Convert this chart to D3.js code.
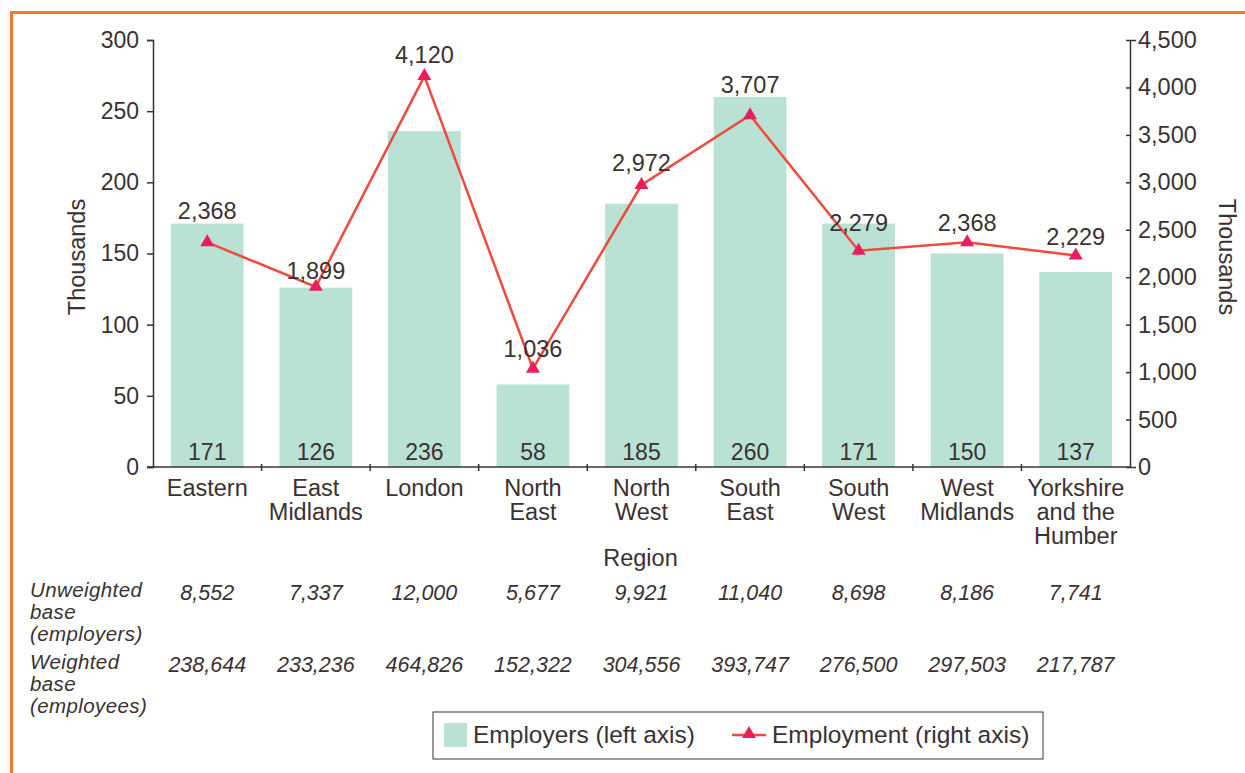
<!DOCTYPE html>
<html>
<head>
<meta charset="utf-8">
<script src="https://cdn.jsdelivr.net/npm/d3@7"></script>
<style>
  body { margin: 0; background: #fff; }
  text { font-family: "Liberation Sans", Arial, sans-serif; fill: #3b3133; }
  .domain, .tick line { stroke: #3b3133; stroke-width: 1.5; }
</style>
</head>
<body>
<svg id="chart"></svg>
<script>
// data
var regions = ["Eastern", "East Midlands", "London", "North East", "North West",
  "South East", "South West", "West Midlands", "Yorkshire and the Humber"];
var regionLines = [["Eastern"], ["East", "Midlands"], ["London"], ["North", "East"],
  ["North", "West"], ["South", "East"], ["South", "West"], ["West", "Midlands"],
  ["Yorkshire", "and the", "Humber"]];
var employers = [171, 126, 236, 58, 185, 260, 171, 150, 137];
var employment = [2368, 1899, 4120, 1036, 2972, 3707, 2279, 2368, 2229];
var unweightedBase = ["8,552", "7,337", "12,000", "5,677", "9,921", "11,040", "8,698", "8,186", "7,741"];
var weightedBase = ["238,644", "233,236", "464,826", "152,322", "304,556", "393,747", "276,500", "297,503", "217,787"];
var leftTicks = [0, 50, 100, 150, 200, 250, 300];
var rightTicks = [0, 500, 1000, 1500, 2000, 2500, 3000, 3500, 4000, 4500];
// how far each line label sits above its point (px)
var lineLabelLift = [23, 8, 13, 12, 14, 22, 20, 11, 10];

var screen = { width: 1245, height: 773 };
var margins = { top: 40, left: 153, right: 115, bottom: 306 };
var graph = {
  width: screen.width - margins.left - margins.right,
  height: screen.height - margins.top - margins.bottom
};

var svg = d3.select("#chart").attr("width", screen.width).attr("height", screen.height);

// orange frame on top and left
svg.append("line").attr("x1", 10).attr("x2", screen.width).attr("y1", 12.5).attr("y2", 12.5)
  .attr("stroke", "#f37a2f").attr("stroke-width", 3);
svg.append("line").attr("x1", 11.5).attr("x2", 11.5).attr("y1", 11).attr("y2", screen.height)
  .attr("stroke", "#f37a2f").attr("stroke-width", 3);

var g = svg.append("g").attr("transform", "translate(" + margins.left + "," + margins.top + ")");

var xScale = d3.scaleBand().domain(regions).range([0, graph.width]).paddingInner(0.33).paddingOuter(0.165);
var bandScale = d3.scaleBand().domain(regions).range([0, graph.width]);
var yLeft = d3.scaleLinear().domain([0, 300]).range([graph.height, 0]);
var yRight = d3.scaleLinear().domain([0, 4500]).range([graph.height, 0]);

// bars
g.selectAll("rect.bar").data(employers).enter().append("rect")
  .attr("class", "bar")
  .attr("x", function (d, i) { return xScale(regions[i]); })
  .attr("width", xScale.bandwidth())
  .attr("y", function (d) { return yLeft(d); })
  .attr("height", function (d) { return graph.height - yLeft(d); })
  .attr("fill", "#b9e2d4");

g.selectAll("text.barval").data(employers).enter().append("text")
  .attr("class", "barval")
  .attr("x", function (d, i) { return xScale(regions[i]) + xScale.bandwidth() / 2; })
  .attr("y", graph.height - 7)
  .attr("text-anchor", "middle")
  .style("font-size", "23px")
  .text(function (d) { return d; });

// axes
var leftAxis = d3.axisLeft(yLeft).tickValues(leftTicks).tickSize(6).tickPadding(8);
g.append("g").call(leftAxis).call(function (a) {
  a.selectAll("text").style("font-size", "23px").attr("fill", "#3b3133");
});

var fmt = d3.format(",");
var rightAxis = d3.axisRight(yRight).tickValues(rightTicks).tickFormat(fmt).tickSize(6).tickPadding(6);
g.append("g").attr("transform", "translate(" + graph.width + ",0)").call(rightAxis)
  .call(function (a) {
    a.selectAll(".tick line").attr("x1", -4).attr("x2", 0);
    a.selectAll("text").style("font-size", "23.5px").attr("fill", "#3b3133").attr("x", 8);
  });

// x axis: ticks at band boundaries
var xAxisG = g.append("g").attr("transform", "translate(0," + graph.height + ")");
xAxisG.append("line").attr("x1", -6).attr("x2", graph.width).attr("y1", 0).attr("y2", 0)
  .attr("stroke", "#3b3133").attr("stroke-width", 1.5);
xAxisG.selectAll("line.sep").data(regions.slice(1)).enter().append("line")
  .attr("class", "sep")
  .attr("x1", function (d) { return bandScale(d); })
  .attr("x2", function (d) { return bandScale(d); })
  .attr("y1", -3).attr("y2", 4)
  .attr("stroke", "#3b3133").attr("stroke-width", 1.5);

var catLabels = xAxisG.selectAll("text.cat").data(regionLines).enter().append("text")
  .attr("class", "cat")
  .attr("text-anchor", "middle")
  .attr("transform", function (d, i) {
    return "translate(" + (xScale(regions[i]) + xScale.bandwidth() / 2) + ",29)";
  })
  .style("font-size", "23.5px");
catLabels.selectAll("tspan").data(function (d) { return d; }).enter().append("tspan")
  .attr("x", 0)
  .attr("dy", function (d, i) { return i === 0 ? 0 : 24; })
  .text(function (d) { return d; });

// employment line
var line = d3.line()
  .x(function (d, i) { return xScale(regions[i]) + xScale.bandwidth() / 2; })
  .y(function (d) { return yRight(d); });

g.append("path").datum(employment)
  .attr("d", line)
  .attr("fill", "none")
  .attr("stroke", "#f04a3c")
  .attr("stroke-width", 2.5);

var tri = d3.symbol().type(d3.symbolTriangle).size(85);
g.selectAll("path.marker").data(employment).enter().append("path")
  .attr("class", "marker")
  .attr("d", tri)
  .attr("transform", function (d, i) {
    return "translate(" + (xScale(regions[i]) + xScale.bandwidth() / 2) + "," + yRight(d) + ")";
  })
  .attr("fill", "#e91e5a");

g.selectAll("text.lineval").data(employment).enter().append("text")
  .attr("class", "lineval")
  .attr("x", function (d, i) { return xScale(regions[i]) + xScale.bandwidth() / 2; })
  .attr("y", function (d, i) { return yRight(d) - lineLabelLift[i]; })
  .attr("text-anchor", "middle")
  .style("font-size", "23.5px")
  .text(function (d) { return fmt(d); });

// axis titles
svg.append("text").attr("transform", "translate(85," + (margins.top + 217) + ") rotate(-90)")
  .attr("text-anchor", "middle").style("font-size", "23.5px").text("Thousands");
svg.append("text").attr("transform", "translate(1219," + (margins.top + 217) + ") rotate(90)")
  .attr("text-anchor", "middle").style("font-size", "23.5px").text("Thousands");
svg.append("text").attr("x", margins.left + graph.width / 2 - 1).attr("y", 566)
  .attr("text-anchor", "middle").style("font-size", "23.5px").text("Region");

// base table under the chart
var tableRows = [
  { label: ["Unweighted", "base", "(employers)"], values: unweightedBase, y: 597 },
  { label: ["Weighted", "base", "(employees)"], values: weightedBase, y: 669 }
];
tableRows.forEach(function (row) {
  svg.selectAll(null).data(row.label).enter().append("text")
    .attr("x", 30)
    .attr("y", function (d, i) { return row.y + i * 22; })
    .style("font-size", "20.5px").style("font-style", "italic").style("letter-spacing", "0.4px")
    .text(function (d) { return d; });
  svg.selectAll(null).data(row.values).enter().append("text")
    .attr("x", function (d, i) { return margins.left + xScale(regions[i]) + xScale.bandwidth() / 2; })
    .attr("y", row.y + 3)
    .attr("text-anchor", "middle")
    .style("font-size", "21.5px").style("font-style", "italic")
    .text(function (d) { return d; });
});

// legend
var legend = svg.append("g").attr("transform", "translate(433,712)");
legend.append("rect").attr("width", 610).attr("height", 47)
  .attr("fill", "#fff").attr("stroke", "#3b3133").attr("stroke-width", 1);
legend.append("rect").attr("x", 11).attr("y", 11).attr("width", 23).attr("height", 24).attr("fill", "#b9e2d4");
legend.append("text").attr("x", 40).attr("y", 31).style("font-size", "24.5px").text("Employers (left axis)");
legend.append("line").attr("x1", 299).attr("x2", 333).attr("y1", 23).attr("y2", 23)
  .attr("stroke", "#f04a3c").attr("stroke-width", 2.5);
legend.append("path").attr("d", tri).attr("transform", "translate(316,22)").attr("fill", "#e91e5a");
legend.append("text").attr("x", 339).attr("y", 31).style("font-size", "24.5px").text("Employment (right axis)");
</script>
</body>
</html>
